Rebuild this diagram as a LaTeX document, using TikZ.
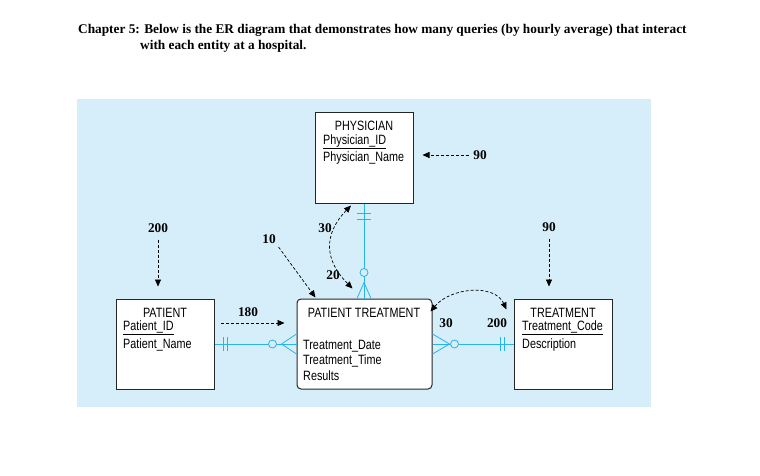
\documentclass[tikz,border=0pt]{standalone}
\usepackage{fontspec}
\setmainfont{Liberation Serif}
\newfontfamily\erfont[FakeStretch=0.8]{Liberation Sans}
\usetikzlibrary{arrows.meta}

\definecolor{bgblue}{RGB}{213,238,250}
\definecolor{relblue}{RGB}{40,180,235}

\tikzset{
  entity/.style={draw=black!85, fill=white, line width=1pt, minimum width=98pt, minimum height=90pt, inner sep=0pt},
  assoc/.style={entity, rounded corners=4pt, minimum width=135pt},
  etext/.style={font=\erfont\fontsize{13.5}{15}\selectfont, inner sep=0pt},
  attr/.style={etext, anchor=west},
  qty/.style={font=\bfseries\fontsize{13.3}{15}\selectfont, inner sep=1pt},
  query/.style={line width=0.7pt, dash pattern=on 3pt off 2pt, -{Triangle[length=7pt,width=6pt]}},
  twoway/.style={{Triangle[length=7pt,width=6pt]}-{Triangle[length=7pt,width=6pt]}},
  rel/.style={draw=relblue, line width=0.8pt},
  opt/.style={rel, fill=bgblue}
}

\begin{document}
\begin{tikzpicture}[x=1pt,y=-1pt]
\useasboundingbox (0,0) rectangle (760,476);

\node[qty, anchor=west] (title1) at (77,30) {Chapter 5: Below is the ER diagram that demonstrates how many queries (by hourly average) that interact};
\node[qty, anchor=west] (title2) at (139,46) {with each entity at a hospital.};

\fill[bgblue] (77,99) rectangle (651,407);

% entities
\node[entity] (physician) at (364,158) {};
\node[entity] (patient) at (165,344) {};
\node[assoc] (ptreat) at (364.5,344) {};
\node[entity] (treatment) at (563,344) {};

\node[etext] at (364,126) {PHYSICIAN};
\node[attr] at (323,142) {\underline{Physician\_ID}};
\node[attr] at (323,158) {Physician\_Name};

\node[etext] at (165,313) {PATIENT};
\node[attr] at (123,328) {\underline{Patient\_ID}};
\node[attr] at (123,345) {Patient\_Name};

\node[etext] at (364,313) {PATIENT TREATMENT};
\node[attr] at (303,346) {Treatment\_Date};
\node[attr] at (303,361) {Treatment\_Time};
\node[attr] at (303,376) {Results};

\node[etext] at (563,313) {TREATMENT};
\node[attr] at (522,328) {\underline{Treatment\_Code}};
\node[attr] at (522,345) {Description};

% relationships
\draw[rel] (patient.east) -- (ptreat.west);
\draw[rel] ([xshift=9pt]patient.east) ++(0,-7) -- ++(0,14) ++(4,0) -- ++(0,-14);
\draw[rel] ([xshift=-15pt]ptreat.west) -- ++(15,-10) ([xshift=-15pt]ptreat.west) -- ++(15,10);
\draw[opt] ([xshift=-24pt]ptreat.west) circle (4pt);

\draw[rel] (physician.south) -- (physician.south |- ptreat.north);
\draw[rel] ([yshift=-10pt]physician.south) ++(-7,0) -- ++(14,0) ++(0,6) -- ++(-14,0);
\draw[rel] ([yshift=16pt]physician.south |- ptreat.north) -- ++(-7,16) ([yshift=16pt]physician.south |- ptreat.north) -- ++(7,16);
\draw[opt] ([yshift=26pt]physician.south |- ptreat.north) circle (4pt);

\draw[rel] (ptreat.east) -- (treatment.west);
\draw[rel] ([xshift=17pt]ptreat.east) -- ++(-17,-10) ([xshift=17pt]ptreat.east) -- ++(-17,10);
\draw[opt] ([xshift=22pt]ptreat.east) circle (4pt);
\draw[rel] ([xshift=-13pt]treatment.west) ++(0,-7) -- ++(0,14) ++(4,0) -- ++(0,-14);

% queries per hour
\node[qty] (q90a) at (480,155) {90};
\draw[query, shorten <=3pt, shorten >=9pt] (q90a.west) -- (q90a.west -| physician.east);

\node[qty] (q200a) at (158,228) {200};
\draw[query, shorten <=6pt, shorten >=12pt] (q200a.south) -- (q200a.south |- patient.north);

\node[qty] (q10) at (269,239) {10};
\draw[query, shorten <=3pt] (q10.south east) -- ([xshift=19pt,yshift=1pt]ptreat.north west);

\coordinate (a180) at (221,323);
\node[qty] (q180) at (248,312) {180};
\draw[query, shorten >=12pt] (a180) -- (a180 -| ptreat.west);

\node[qty] (q90b) at (549,227) {90};
\draw[query, shorten <=6pt, shorten >=12pt] (q90b.south) -- (q90b.south |- treatment.north);

\node[qty] (q30a) at (325,228) {30};
\node[qty] (q20) at (333,275) {20};
\draw[query, twoway] ([xshift=-13pt,yshift=-2pt]physician.south) .. controls +(-29,30) and +(-27,-27) .. ([xshift=-12pt,yshift=10pt]ptreat.north);

\node[qty] (q30b) at (446,323) {30};
\node[qty] (q200b) at (497,323) {200};
\draw[query, twoway] ([xshift=-2pt,yshift=-13pt]ptreat.north east) .. controls +(20,-24) and +(-12,-26) .. ([xshift=-7pt,yshift=-11pt]treatment.north west);
\end{tikzpicture}
\end{document}
